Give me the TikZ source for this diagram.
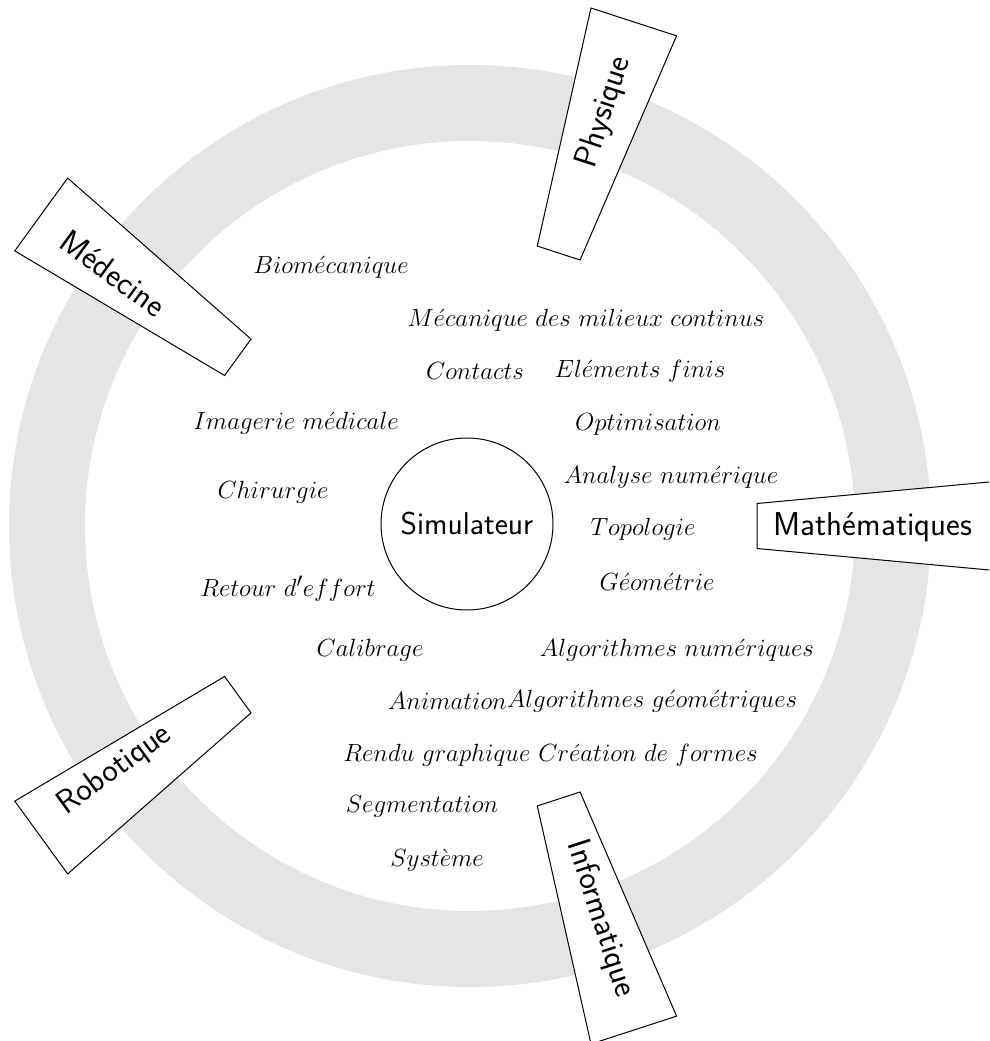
\documentclass[tikz,border=0pt]{standalone}
\usepackage{fontspec}
\usetikzlibrary{calc}
\tikzset{
  ring/.style={draw=black!10, line width=76pt},
  wedge/.style={draw=black, fill=white, line width=1pt},
  field/.style={font=\fontsize{33}{40}\selectfont\sffamily, inner sep=0pt},
  topic/.style={font=\fontsize{24.88}{30}\selectfont, inner sep=0pt},
  core/.style={draw, circle, line width=1pt, minimum size=172pt, inner sep=0pt,
    font=\fontsize{31.5}{38}\selectfont\sffamily}
}
\begin{document}
\begin{tikzpicture}[x=1pt,y=1pt]
\useasboundingbox (-470,-515) rectangle (519,526);
\clip (-470,-515) rectangle (519,526);
\draw[ring] (0,0) circle (423);
\foreach \a in {0,72,144,216,288} {
  \begin{scope}[rotate=\a]
    \draw[wedge] (287,-22.5) -- (530,-45) -- (530,45) -- (287,22.5) -- cycle;
  \end{scope}
}
\node[field] (math) at (403,-1) {Mathématiques};
\node[field, rotate=72] (phys) at (72:435) {Physique};
\node[field, rotate=-36] (med) at (144.7:437) {Médecine};
\node[field, rotate=36] (robo) at (214.5:431) {Robotique};
\node[field, rotate=-72] (info) at (-71.6:414) {Informatique};

\node[core] (sim) at (-3,2) {Simulateur};

\node[topic] (bio) at (-139,259) {$Biom\acute{e}canique$};
\node[topic] (mmc) at (116,206) {$M\acute{e}canique\ des\ milieux\ continus$};
\node[topic] (cont) at (5,155) {$Contacts$};
\node[topic] (ef) at (170,155) {$El\acute{e}ments\ finis$};
\node[topic] (img) at (-174,103) {$Imagerie\ m\acute{e}dicale$};
\node[topic] (opt) at (178,102) {$Optimisation$};
\node[topic] (an) at (201,49) {$Analyse\ num\acute{e}rique$};
\node[topic] (chir) at (-197,34) {$Chirurgie$};
\node[topic] (topo) at (173,-3) {$Topologie$};
\node[topic] (geo) at (187,-56) {$G\acute{e}om\acute{e}trie$};
\node[topic] (ret) at (-182,-63) {$Retour\ d'effort$};
\node[topic] (cal) at (-100,-124) {$Calibrage$};
\node[topic] (algn) at (207,-124) {$Algorithmes\ num\acute{e}riques$};
\node[topic, anchor=east] (anim) at (37,-175) {$Animation$};
\node[topic, anchor=west] (algg) at (37,-175) {$Algorithmes\ g\acute{e}om\acute{e}triques$};
\node[topic] (rend) at (-33,-229) {$Rendu\ graphique$};
\node[topic] (crea) at (178,-229) {$Cr\acute{e}ation\ de\ formes$};
\node[topic] (seg) at (-48,-280) {$Segmentation$};
\node[topic] (sys) at (-33,-334) {$Syst\grave{e}me$};
\end{tikzpicture}
\end{document}
